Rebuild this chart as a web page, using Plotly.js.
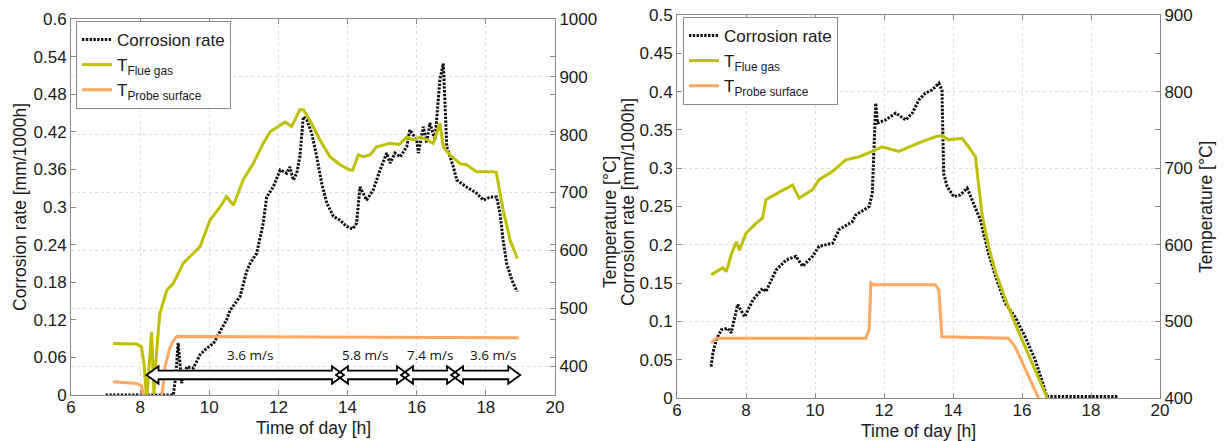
<!DOCTYPE html>
<html>
<head>
<meta charset="utf-8">
<script src="https://cdn.plot.ly/plotly-3.0.1.min.js"></script>
<style>html,body{margin:0;padding:0;background:#fff;}#chart{width:1224px;height:441px;}</style>
</head>
<body>
<div id="chart"></div>
<script>
// ---------------- DATA (left panel) ----------------
const corrTime1 = [7.0, 8.96, 9.03, 9.1, 9.2, 9.35, 9.54, 9.73, 9.93, 10.12, 10.3, 10.5, 10.6, 10.74, 10.89, 11.08, 11.18, 11.37, 11.56, 11.66, 11.85, 12.05, 12.24, 12.33, 12.43, 12.53, 12.62, 12.72, 12.82, 12.96, 13.11, 13.25, 13.4, 13.59, 13.78, 13.97, 14.15, 14.26, 14.36, 14.55, 14.74, 14.94, 15.13, 15.23, 15.37, 15.52, 15.71, 15.8, 16.0, 16.05, 16.19, 16.29, 16.38, 16.53, 16.67, 16.77, 16.87, 17.06, 17.16, 17.44, 17.73, 17.93, 18.12, 18.31, 18.41, 18.5, 18.6, 18.79, 18.91];
const corrRate1 = [0, 0, 0.03, 0.083, 0.019, 0.045, 0.043, 0.064, 0.075, 0.082, 0.1, 0.12, 0.135, 0.146, 0.157, 0.197, 0.21, 0.226, 0.274, 0.316, 0.332, 0.359, 0.354, 0.364, 0.343, 0.354, 0.38, 0.444, 0.439, 0.418, 0.38, 0.338, 0.306, 0.285, 0.279, 0.269, 0.265, 0.274, 0.332, 0.311, 0.327, 0.359, 0.386, 0.37, 0.386, 0.38, 0.396, 0.423, 0.407, 0.386, 0.428, 0.402, 0.434, 0.407, 0.503, 0.529, 0.396, 0.364, 0.343, 0.332, 0.322, 0.311, 0.316, 0.316, 0.29, 0.247, 0.21, 0.178, 0.165];
const flueTime1 = [7.22, 7.9, 8.04, 8.12, 8.19, 8.26, 8.33, 8.4, 8.47, 8.57, 8.77, 8.96, 9.25, 9.54, 9.73, 10.02, 10.31, 10.5, 10.7, 10.98, 11.27, 11.56, 11.76, 12.19, 12.38, 12.62, 12.72, 12.91, 13.2, 13.49, 13.78, 14.07, 14.15, 14.31, 14.45, 14.65, 14.84, 15.03, 15.23, 15.5, 15.71, 15.9, 16.1, 16.3, 16.48, 16.67, 16.77, 16.96, 17.25, 17.44, 17.73, 18.22, 18.3, 18.5, 18.7, 18.91];
const flueTemp1 = [439, 438, 433, 400, 340, 400, 459, 352, 420, 491, 531, 543, 578, 595, 606, 652, 675, 693, 678, 722, 750, 785, 805, 822, 814, 843, 843, 825, 791, 762, 748, 739, 739, 765, 762, 765, 779, 782, 785, 783, 796, 791, 796, 791, 785, 820, 779, 765, 750, 748, 736, 736, 735, 670, 618, 586];
const probeTime1 = [7.22, 7.9, 8.04, 8.12, 8.6, 8.65, 8.72, 8.85, 8.95, 9.06, 18.95];
const probeTemp1 = [373, 370, 366, 340, 340, 360, 399, 430, 443, 451, 449];

// flue gas velocity periods (left panel)
const speedBounds = [8.3, 13.78, 15.66, 17.11, 18.88];
const speedLabels = ["3.6 m/s", "5.8 m/s", "7.4 m/s", "3.6 m/s"];
const speedLabelAt = [11.18, 14.5, 16.38, 18.2];

// ---------------- DATA (right panel) ----------------
const corrTime2 = [6.99, 7.04, 7.14, 7.28, 7.47, 7.57, 7.76, 7.96, 8.2, 8.48, 8.58, 8.87, 9.16, 9.45, 9.64, 9.93, 10.12, 10.32, 10.51, 10.7, 11.08, 11.18, 11.57, 11.66, 11.71, 11.76, 11.81, 12.05, 12.34, 12.63, 12.82, 13.01, 13.2, 13.39, 13.59, 13.68, 13.73, 13.83, 14.02, 14.21, 14.41, 14.55, 14.69, 14.79, 15.03, 15.23, 15.51, 15.8, 16.09, 16.38, 16.57, 16.72, 18.79];
const corrRate2 = [0.041, 0.059, 0.076, 0.089, 0.091, 0.085, 0.122, 0.106, 0.128, 0.143, 0.139, 0.167, 0.18, 0.185, 0.172, 0.185, 0.198, 0.2, 0.202, 0.22, 0.23, 0.239, 0.25, 0.267, 0.333, 0.385, 0.359, 0.363, 0.372, 0.363, 0.372, 0.389, 0.398, 0.402, 0.411, 0.402, 0.293, 0.276, 0.263, 0.265, 0.274, 0.259, 0.246, 0.233, 0.189, 0.159, 0.124, 0.106, 0.08, 0.05, 0.024, 0.002, 0.002];
const flueTime2 = [6.99, 7.14, 7.33, 7.43, 7.57, 7.72, 7.81, 8.0, 8.29, 8.48, 8.58, 8.97, 9.35, 9.54, 9.93, 10.12, 10.51, 10.89, 11.28, 11.66, 11.95, 12.43, 12.72, 13.01, 13.49, 13.68, 13.87, 14.26, 14.45, 14.65, 14.84, 15.03, 15.23, 15.51, 15.8, 16.09, 16.38, 16.57, 16.75];
const flueTemp2 = [561, 565, 570, 565, 587, 604, 593, 615, 628, 635, 659, 669, 678, 661, 672, 685, 696, 711, 715, 722, 728, 722, 728, 733, 741, 743, 737, 739, 728, 715, 640, 598, 565, 530, 497, 467, 437, 416, 398];
const probeTime2 = [6.99, 7.14, 11.47, 11.57, 11.62, 11.7, 13.49, 13.59, 13.68, 15.61, 15.8, 16.48, 16.6];
const probeTemp2 = [472, 478, 478, 489, 550, 548, 548, 541, 480, 478, 467, 400, 385];

// ---------------- LAYOUT HELPERS ----------------
const W = 1224, H = 441;
const px = v => v / W;
const py = v => 1 - v / H;
const P1 = {l: 71, r: 555, t: 19, b: 395};
const P2 = {l: 677, r: 1160, t: 15, b: 398};

const FONT = 'Liberation Sans, Arial, sans-serif';
const GREEN = '#bfbf00', ORANGE = '#ffa862', AX = '#8a8a8a', GRID = '#dedede';
const TXT = '#1a1a1a';

const dotted = {color: '#111', width: 3, dash: '2.4px,1.4px'};

const traces = [
  {x: corrTime1, y: corrRate1, xaxis: 'x', yaxis: 'y', mode: 'lines', name: 'Corrosion rate', line: dotted, legend: 'legend'},
  {x: flueTime1, y: flueTemp1, xaxis: 'x', yaxis: 'y2', mode: 'lines', name: 'T<sub>Flue gas</sub>', line: {color: GREEN, width: 3}, legend: 'legend'},
  {x: probeTime1, y: probeTemp1, xaxis: 'x', yaxis: 'y2', mode: 'lines', name: 'T<sub>Probe surface</sub>', line: {color: ORANGE, width: 3}, legend: 'legend'},
  {x: corrTime2, y: corrRate2, xaxis: 'x2', yaxis: 'y3', mode: 'lines', name: 'Corrosion rate', line: dotted, legend: 'legend2'},
  {x: flueTime2, y: flueTemp2, xaxis: 'x2', yaxis: 'y4', mode: 'lines', name: 'T<sub>Flue gas</sub>', line: {color: GREEN, width: 3}, legend: 'legend2'},
  {x: probeTime2, y: probeTemp2, xaxis: 'x2', yaxis: 'y4', mode: 'lines', name: 'T<sub>Probe surface</sub>', line: {color: ORANGE, width: 3}, legend: 'legend2'}
];

const tickFont = {family: FONT, size: 17, color: TXT};
function xAxis(P, anchor) {
  return {domain: [px(P.l), px(P.r)], anchor: anchor, range: [6, 20], dtick: 2, tick0: 6,
    showline: true, linecolor: AX, linewidth: 1, mirror: 'ticks', ticks: 'inside', ticklen: 5, tickcolor: AX,
    showgrid: true, gridcolor: GRID, griddash: 'dot', gridwidth: 1, zeroline: false,
    tickfont: tickFont, ticklabelstandoff: -3, automargin: false, fixedrange: true};
}
function yLeft(P, anchor, range, dtick) {
  return {domain: [py(P.b), py(P.t)], anchor: anchor, range: range, dtick: dtick, tick0: 0,
    showline: true, linecolor: AX, linewidth: 1, mirror: 'ticks', ticks: 'inside', ticklen: 5, tickcolor: AX,
    showgrid: false, zeroline: false, tickfont: tickFont, automargin: false, fixedrange: true};
}
function yRight(overlay, anchor, range, dtick) {
  return {overlaying: overlay, side: 'right', anchor: anchor, range: range, dtick: dtick, tick0: 0,
    showline: true, linecolor: AX, linewidth: 1, ticks: 'inside', ticklen: 5, tickcolor: AX,
    showgrid: true, gridcolor: GRID, griddash: 'dot', gridwidth: 1, zeroline: false,
    tickfont: tickFont, automargin: false, fixedrange: true};
}

// ---------------- ARROWS (velocity periods) ----------------
const hPerPx = 14 / (P1.r - P1.l);
const vPerPx = 0.6 / (P1.b - P1.t);
const arrowY = 0.032, headHalf = 8.7 * vPerPx, shaftHalf = 4.3 * vPerPx;
const headLen = 12 * hPerPx, overlap = 4 * hPerPx;
function arrowPath(a, b) {
  const L = a - overlap, R = b + overlap, y = arrowY;
  const p = [[L, y], [L + headLen, y + headHalf], [L + headLen, y + shaftHalf], [R - headLen, y + shaftHalf],
    [R - headLen, y + headHalf], [R, y], [R - headLen, y - headHalf], [R - headLen, y - shaftHalf],
    [L + headLen, y - shaftHalf], [L + headLen, y - headHalf]];
  return 'M' + p.map(q => q[0] + ',' + q[1]).join(' L') + ' Z';
}
const shapes = [];
for (let i = 0; i < speedBounds.length - 1; i++) {
  shapes.push({type: 'path', xref: 'x', yref: 'y', path: arrowPath(speedBounds[i], speedBounds[i + 1]),
    fillcolor: '#ffffff', line: {width: 0}, layer: 'above'});
}
for (let i = 0; i < speedBounds.length - 1; i++) {
  shapes.push({type: 'path', xref: 'x', yref: 'y', path: arrowPath(speedBounds[i], speedBounds[i + 1]),
    fillcolor: 'rgba(0,0,0,0)', line: {width: 1.8, color: '#000'}, layer: 'above'});
}

const annotations = speedLabels.map((t, i) => ({xref: 'x', yref: 'y', x: speedLabelAt[i], y: 0.0638, text: t,
  showarrow: false, font: {family: 'Open Sans, sans-serif', size: 13.5, color: '#111'}}));

const titleFont = {family: FONT, size: 17.5, color: TXT};
function title(text, x, y, angle) {
  return {xref: 'paper', yref: 'paper', x: px(x), y: py(y), text: text, showarrow: false,
    textangle: angle, font: titleFont, xanchor: 'center', yanchor: 'middle'};
}
annotations.push(title('Time of day [h]', (P1.l + P1.r) / 2, 428, 0));
annotations.push(title('Time of day [h]', (P2.l + P2.r) / 2, 431, 0));
annotations.push(title('Corrosion rate [mm/1000h]', 20, 207, -90));
annotations.push(title('Temperature [°C]', 610, 222, -90));
annotations.push(title('Corrosion rate [mm/1000h]', 628, 202, -90));
annotations.push(title('Temperature [°C]', 1206, 207, -90));

const legendBase = {xanchor: 'left', yanchor: 'top', bgcolor: '#ffffff', bordercolor: '#8a8a8a', borderwidth: 1,
  font: {family: FONT, size: 17, color: TXT}, itemwidth: 30, tracegroupgap: 0, traceorder: 'normal'};

const layout = {
  width: W, height: H, margin: {l: 0, r: 0, t: 0, b: 0}, paper_bgcolor: '#fff', plot_bgcolor: '#fff',
  showlegend: true,
  legend: Object.assign({x: px(76), y: py(21)}, legendBase),
  legend2: Object.assign({x: px(683), y: py(17)}, legendBase),
  xaxis: xAxis(P1, 'y'),
  yaxis: yLeft(P1, 'x', [0, 0.6], 0.06),
  yaxis2: yRight('y', 'x', [350, 1000], 100),
  xaxis2: xAxis(P2, 'y3'),
  yaxis3: yLeft(P2, 'x2', [0, 0.5], 0.05),
  yaxis4: yRight('y3', 'x2', [400, 900], 100),
  shapes: shapes,
  annotations: annotations
};

Plotly.newPlot('chart', traces, layout, {displayModeBar: false, staticPlot: true});
</script>
</body>
</html>
